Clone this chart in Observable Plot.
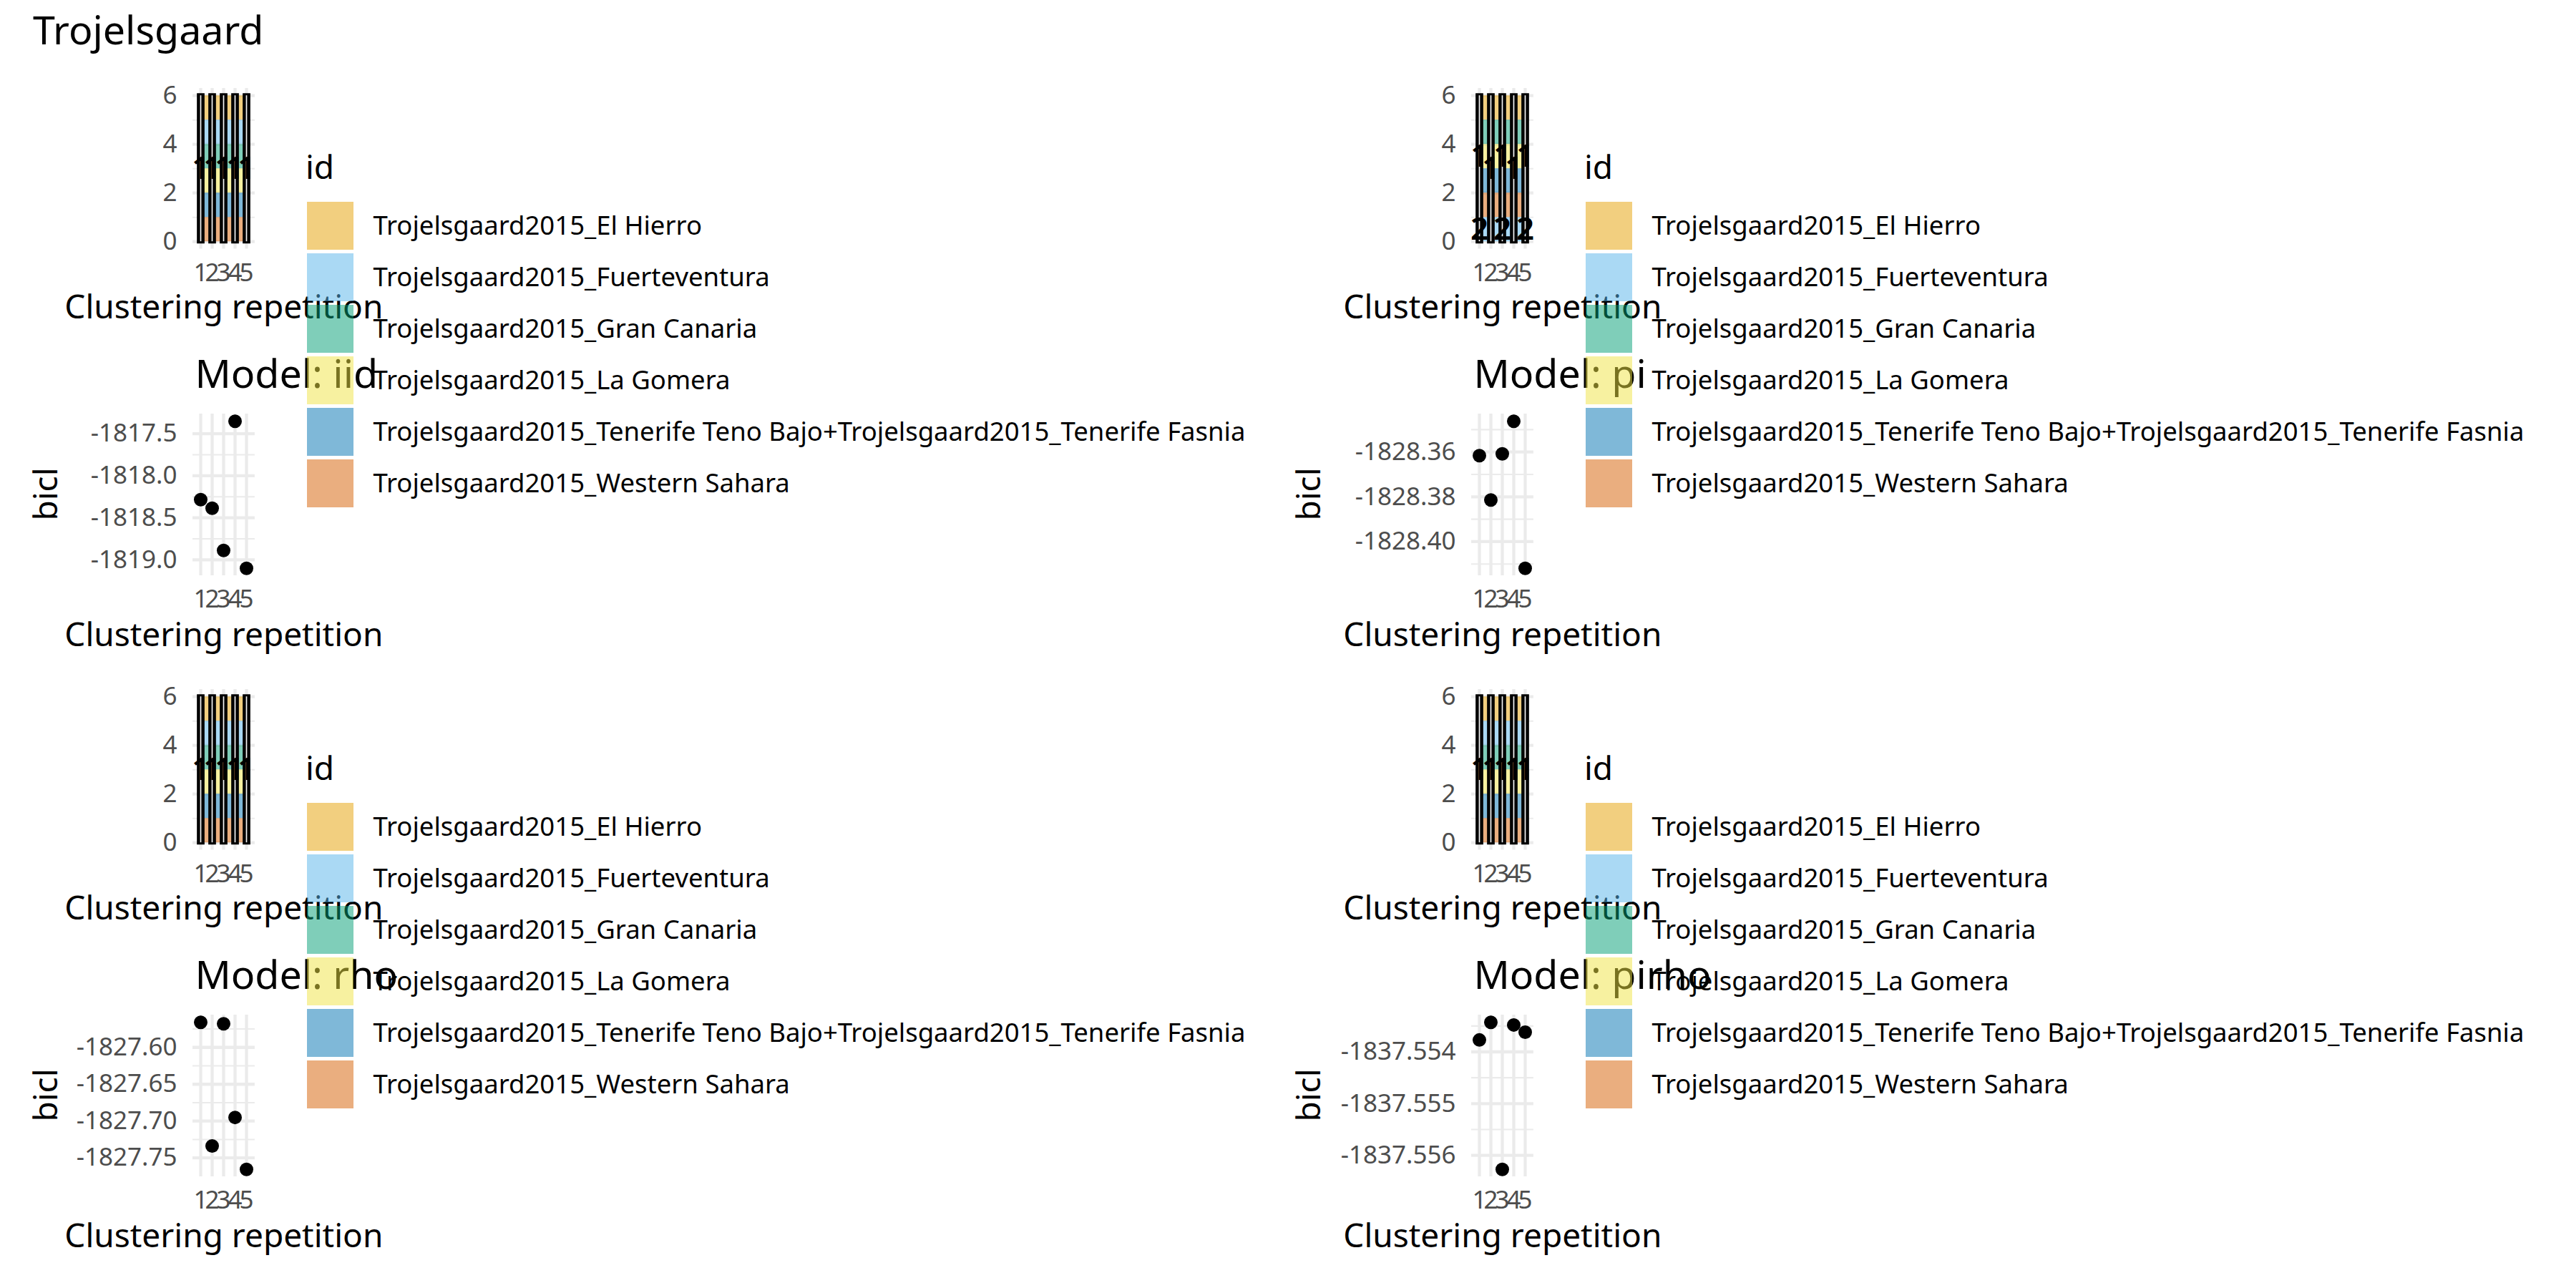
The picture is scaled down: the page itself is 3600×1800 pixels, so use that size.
<!DOCTYPE html>
<html>
<head>
<meta charset="utf-8">
<script src="https://cdn.jsdelivr.net/npm/d3@7"></script>
<script src="https://cdn.jsdelivr.net/npm/@observablehq/plot@0.6"></script>
<style>
  body { margin: 0; background: #ffffff; }
  #root { position: relative; width: 3600px; height: 1800px; overflow: hidden; background: #ffffff; }
  #root > svg { position: absolute; }
</style>
</head>
<body>
<div id="root"></div>
<script>
// ---------------- data ----------------
const figureTitle = "Trojelsgaard";
const ids = [
  "Trojelsgaard2015_El Hierro",
  "Trojelsgaard2015_Fuerteventura",
  "Trojelsgaard2015_Gran Canaria",
  "Trojelsgaard2015_La Gomera",
  "Trojelsgaard2015_Tenerife Teno Bajo+Trojelsgaard2015_Tenerife Fasnia",
  "Trojelsgaard2015_Western Sahara"
];
const idColors = ["#E69F00", "#56B4E9", "#009E73", "#F0E442", "#0072B2", "#D55E00"];
const reps = [1, 2, 3, 4, 5];
const modelTitles = ["Model: iid", "Model: pi", "Model: rho", "Model: pirho"];
const xTitle = "Clustering repetition";
const yTitle = "bicl";
const legendTitle = "id";

// BIC values per clustering repetition
const biclIid = [-1818.285, -1818.387, -1818.889, -1817.353, -1819.101];
const biclPi = [-1828.3616, -1828.3814, -1828.3608, -1828.3463, -1828.4119];
const biclRho = [-1827.566, -1827.7338, -1827.568, -1827.6951, -1827.7656];
const biclPirho = [-1837.55377, -1837.55343, -1837.55627, -1837.55348, -1837.55362];

// stacking order of ids in the bar panels (bottom -> top)
const stackDefault = [ids[5], ids[4], ids[3], ids[2], ids[1], ids[0]];
const stackPi = [ids[1], ids[5], ids[4], ids[3], ids[2], ids[0]];

// cluster of each id (ids order) in each repetition
const clustersAllOne = [[1,1,1,1,1,1],[1,1,1,1,1,1],[1,1,1,1,1,1],[1,1,1,1,1,1],[1,1,1,1,1,1]];
const clustersPi = [[1,2,1,1,1,1],[1,1,1,1,1,1],[1,2,1,1,1,1],[1,1,1,1,1,1],[1,2,1,1,1,1]];

// tick values
const barTicks = [0, 2, 4, 6];
const barMinorTicks = [1, 3, 5];
const ticksIid = [-1819.0, -1818.5, -1818.0, -1817.5];
const minorIid = [-1818.75, -1818.25, -1817.75];
const ticksPi = [-1828.40, -1828.38, -1828.36];
const minorPi = [-1828.41, -1828.39, -1828.37, -1828.35];
const ticksRho = [-1827.75, -1827.70, -1827.65, -1827.60];
const minorRho = [-1827.725, -1827.675, -1827.625, -1827.575];
const ticksPirho = [-1837.556, -1837.555, -1837.554];
const minorPirho = [-1837.5555, -1837.5545, -1837.5535];
const tickDecimals = [1, 2, 2, 3];

const biclAll = [biclIid, biclPi, biclRho, biclPirho];
const stackAll = [stackDefault, stackPi, stackDefault, stackDefault];
const clustersAll = [clustersAllOne, clustersPi, clustersAllOne, clustersAllOne];
const ticksAll = [ticksIid, ticksPi, ticksRho, ticksPirho];
const minorAll = [minorIid, minorPi, minorRho, minorPirho];

// ---------------- layout ----------------
const FONT = "'Noto Sans', 'Open Sans', sans-serif";
const GRID = "#EBEBEB";
const FL = 269.4, FW = 86.9;
const BAR_T = 122.8, BAR_H = 224.4;
const SC_T = 577.5, SC_H = 226;
const blocks = [{dx: 0, dy: 0}, {dx: 1787, dy: 0}, {dx: 0, dy: 840}, {dx: 1787, dy: 840}];
const biclX = [80.4, 1845, 80.4, 1845];
const ML = 260, MR = 20, MT = 20, MB = 80;
const TITLE_SIZE = 55.5, AXIS_TITLE_SIZE = 46, TICK_SIZE = 35, LEGEND_SIZE = 36.5;

const root = document.getElementById("root");
const baseStyle = {fontFamily: FONT, fontSize: TICK_SIZE + "px", color: "#4D4D4D", background: "none", overflow: "visible"};

function place(el, left, top) {
  el.style.position = "absolute";
  el.style.left = left + "px";
  el.style.top = top + "px";
  root.appendChild(el);
}

// text overlay (titles)
const overlay = d3.select(root).append("svg")
  .attr("width", 3600).attr("height", 1800)
  .style("left", "0px").style("top", "0px")
  .attr("font-family", FONT).attr("fill", "#000");
overlay.append("text").attr("x", 46).attr("y", 62).attr("font-size", TITLE_SIZE).text(figureTitle);
blocks.forEach((b, k) => {
  const fl = FL + b.dx;
  overlay.append("text").attr("x", fl + 3).attr("y", 542 + b.dy).attr("font-size", TITLE_SIZE).text(modelTitles[k]);
  [445, 903].forEach(yb => overlay.append("text")
    .attr("x", fl + FW / 2).attr("y", yb + b.dy)
    .attr("text-anchor", "middle").attr("font-size", AXIS_TITLE_SIZE).text(xTitle));
  overlay.append("text")
    .attr("transform", `translate(${biclX[k]},${SC_T + b.dy + SC_H / 2}) rotate(-90)`)
    .attr("text-anchor", "middle").attr("font-size", AXIS_TITLE_SIZE).text(yTitle);
  overlay.append("text").attr("x", 427 + b.dx).attr("y", 250 + b.dy).attr("font-size", AXIS_TITLE_SIZE).text(legendTitle);
});

function barPanel(k) {
  const order = stackAll[k];
  const clusters = clustersAll[k];
  const rows = reps.flatMap((r, ri) => ids.map((id, j) => ({rep: r, id, n: 1, cluster: clusters[ri][j]})));
  const labels = [];
  reps.forEach((r, ri) => {
    Array.from(new Set(clusters[ri])).forEach(c => {
      const idx = ids.filter((id, j) => clusters[ri][j] === c).map(id => order.indexOf(id));
      labels.push({rep: r, label: String(c), y: (d3.min(idx) + d3.max(idx) + 1) / 2});
    });
  });
  const totals = reps.map(r => ({rep: r, n: ids.length}));
  return Plot.plot({
    width: ML + FW + MR, height: MT + BAR_H + MB,
    marginLeft: ML, marginRight: MR, marginTop: MT, marginBottom: MB,
    style: baseStyle,
    x: {type: "point", domain: reps, padding: 0.6},
    y: {domain: [-0.3, 6.3]},
    color: {domain: ids, range: idColors},
    marks: [
      Plot.ruleY(barMinorTicks, {stroke: GRID, strokeWidth: 2.1}),
      Plot.ruleY(barTicks, {stroke: GRID, strokeWidth: 4.3}),
      Plot.ruleX(reps, {stroke: GRID, strokeWidth: 4.3}),
      Plot.areaY(rows, {x: "rep", y: "n", fill: "id", order, fillOpacity: 0.5}),
      Plot.ruleX(totals, {x: "rep", y1: "n", y2: 0, stroke: "black", strokeWidth: 10.7, insetTop: -3, insetBottom: -3}),
      Plot.ruleX(totals, {x: "rep", y1: "n", y2: 0, stroke: "#f4f4f4", strokeWidth: 1.7}),
      Plot.text(labels, {x: "rep", y: "y", text: "label", fontSize: 44, fill: "black", fontWeight: 600}),
      Plot.axisY({ticks: barTicks, tickFormat: d => String(d), tickSize: 0, tickPadding: 22, label: null, fontSize: TICK_SIZE}),
      Plot.axisX({ticks: reps, tickFormat: d => String(d), tickSize: 0, tickPadding: 20, label: null, fontSize: TICK_SIZE})
    ]
  });
}

function scatterPanel(k) {
  const vals = biclAll[k];
  const pts = reps.map((r, i) => ({rep: r, bicl: vals[i]}));
  const [lo, hi] = d3.extent(vals);
  const pad = (hi - lo) * 0.05;
  const dec = tickDecimals[k];
  return Plot.plot({
    width: ML + FW + MR, height: MT + SC_H + MB,
    marginLeft: ML, marginRight: MR, marginTop: MT, marginBottom: MB,
    style: baseStyle,
    x: {type: "point", domain: reps, padding: 0.6},
    y: {domain: [lo - pad, hi + pad]},
    marks: [
      Plot.ruleY(minorAll[k], {stroke: GRID, strokeWidth: 2.1}),
      Plot.ruleY(ticksAll[k], {stroke: GRID, strokeWidth: 4.3}),
      Plot.ruleX(reps, {stroke: GRID, strokeWidth: 4.3}),
      Plot.dot(pts, {x: "rep", y: "bicl", r: 9.5, fill: "black", stroke: "none"}),
      Plot.axisY({ticks: ticksAll[k], tickFormat: d => d.toFixed(dec), tickSize: 0, tickPadding: 22, label: null, fontSize: TICK_SIZE}),
      Plot.axisX({ticks: reps, tickFormat: d => String(d), tickSize: 0, tickPadding: 20, label: null, fontSize: TICK_SIZE})
    ]
  });
}

function legendPanel() {
  return Plot.plot({
    width: 1500, height: 6 * 72 - 5,
    marginLeft: 0, marginRight: 0, marginTop: 0, marginBottom: 0,
    style: {fontFamily: FONT, fontSize: LEGEND_SIZE + "px", color: "#000", background: "none", overflow: "visible"},
    x: {type: "band", domain: ["swatch"], range: [0, 65], padding: 0, axis: null},
    y: {type: "band", domain: ids, paddingInner: 5 / 72, paddingOuter: 0, axis: null},
    color: {domain: ids, range: idColors},
    marks: [
      Plot.cell(ids, {x: () => "swatch", y: d => d, fill: d => d, fillOpacity: 0.5}),
      Plot.text(ids, {y: d => d, frameAnchor: "left", dx: 92, text: d => d, fontSize: LEGEND_SIZE, fill: "black", textAnchor: "start"})
    ]
  });
}

blocks.forEach((b, k) => {
  place(barPanel(k), FL + b.dx - ML, BAR_T + b.dy - MT);
  place(scatterPanel(k), FL + b.dx - ML, SC_T + b.dy - MT);
});
blocks.forEach((b, k) => {
  place(legendPanel(), 429 + b.dx, 282 + b.dy);
});
</script>
</body>
</html>
